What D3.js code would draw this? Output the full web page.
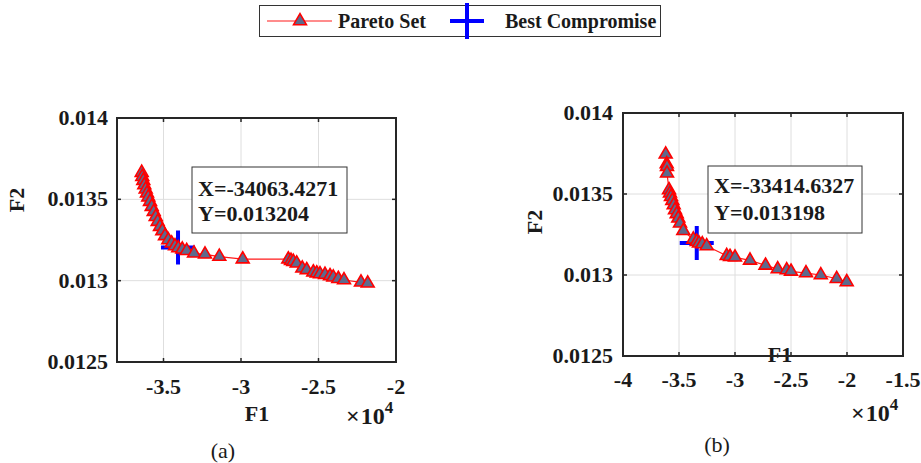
<!DOCTYPE html>
<html>
<head>
<meta charset="utf-8">
<script src="https://cdn.jsdelivr.net/npm/d3@7/dist/d3.min.js"></script>
<style>
  body { margin: 0; background: #fff; }
  svg text { font-family: "Liberation Serif", "Times New Roman", serif; fill: #1a1a1a; }
</style>
</head>
<body>
<svg id="chart" width="921" height="463"></svg>
<script>
// ---- data ----
var paretoA_F1 = [-36406, -36368, -36303, -36239, -36148, -36065, -35981, -35871, -35761, -35632,
  -35503, -35374, -35226, -35077, -34903, -34690, -34471, -34258, -34045, -33787,
  -33503, -33032, -32323, -31400, -29890, -26948, -26774, -26626, -26406, -26045,
  -25761, -25335, -25116, -24903, -24581, -24258, -24045, -23723, -23355, -22258, -21826];
var paretoA_F2 = [0.013664, 0.013639, 0.013615, 0.013588, 0.013562, 0.013537, 0.013513, 0.013486, 0.013455, 0.013424,
  0.013393, 0.013363, 0.013332, 0.013306, 0.013275, 0.013250, 0.013230, 0.013213, 0.013201, 0.013193,
  0.013184, 0.013168, 0.013162, 0.013148, 0.013132, 0.013132, 0.013123, 0.013117, 0.013107, 0.013076,
  0.013066, 0.013052, 0.013046, 0.013041, 0.013037, 0.013029, 0.013021, 0.013012, 0.013004, 0.012990, 0.012984];

var paretoB_F1 = [-36188, -36098, -36071, -36071, -35893, -35804, -35714, -35598, -35473, -35357,
  -35205, -35063, -34911, -34616, -33723, -33420, -33214, -32920, -32527, -30741,
  -30446, -30000, -28661, -27277, -26188, -25384, -25000, -23661, -22339, -20920, -20027];
var paretoB_F2 = [0.013745, 0.013685, 0.013669, 0.013628, 0.013525, 0.013504, 0.013483, 0.013459, 0.013432, 0.013401,
  0.013377, 0.013350, 0.013319, 0.013273, 0.013220, 0.013206, 0.013196, 0.013191, 0.013179, 0.013119,
  0.013113, 0.013109, 0.013090, 0.013059, 0.013037, 0.013031, 0.013022, 0.013012, 0.013000, 0.012977, 0.012957];

var bestA = [-34063.4271, 0.013204];
var bestB = [-33414.6327, 0.013198];

var xTicksA = [-35000, -30000, -25000, -20000];
var xTicksB = [-40000, -35000, -30000, -25000, -20000, -15000];
var yTicks = [0.0125, 0.013, 0.0135, 0.014];
var yTickLabels = ["0.0125", "0.013", "0.0135", "0.014"];
var legendLabels = ["Pareto Set", "Best Compromise"];

// plain hyphen minus like the original figure
var loc = d3.formatLocale({ decimal: ".", thousands: ",", grouping: [3], currency: ["", ""], minus: "-" });

// ---- layout ----
var svg = d3.select("#chart");
var markerFill = "#5e6a8c";
var tri = d3.symbol().type(d3.symbolTriangle).size(72);

var panels = [
  { f1: paretoA_F1, f2: paretoA_F2, best: bestA, xTicks: xTicksA, xDomain: [-38000, -20000],
    left: 117, right: 396, top: 118, bottom: 362, tickY: 394,
    yLabX: 108, f2X: 17, f2Y: 200, f1X: 257, f1Y: 421, expX: 346, expY: 424, tagX: 223, tagY: 458, tag: "(a)",
    box: [192, 167, 155, 66], txtX: 198, txtY: [196, 221] },
  { f1: paretoB_F1, f2: paretoB_F2, best: bestB, xTicks: xTicksB, xDomain: [-40000, -15000],
    left: 623, right: 903, top: 113, bottom: 356, tickY: 387,
    yLabX: 613, f2X: 535, f2Y: 222, f1X: 780, f1Y: 362, expX: 851, expY: 421, tagX: 717, tagY: 452, tag: "(b)",
    box: [708, 166, 154, 67], txtX: 714, txtY: [193, 220] }
];

panels.forEach(function(p) {
  var x = d3.scaleLinear().domain(p.xDomain).range([p.left, p.right]);
  var y = d3.scaleLinear().domain([0.0125, 0.014]).range([p.bottom, p.top]);
  var g = svg.append("g");

  g.append("rect").attr("x", p.left).attr("y", p.top)
    .attr("width", p.right - p.left).attr("height", p.bottom - p.top).attr("fill", "#fff");

  // grid
  g.selectAll(".gx").data(p.xTicks).enter().append("line")
    .attr("x1", function(d) { return x(d); }).attr("x2", function(d) { return x(d); })
    .attr("y1", p.top).attr("y2", p.bottom).attr("stroke", "#dedede").attr("stroke-width", 1);
  g.selectAll(".gy").data(yTicks).enter().append("line")
    .attr("x1", p.left).attr("x2", p.right)
    .attr("y1", function(d) { return y(d); }).attr("y2", function(d) { return y(d); })
    .attr("stroke", "#dedede").attr("stroke-width", 1);

  // inward ticks on all sides
  p.xTicks.forEach(function(d) {
    g.append("line").attr("x1", x(d)).attr("x2", x(d)).attr("y1", p.bottom).attr("y2", p.bottom - 4).attr("stroke", "#262626").attr("stroke-width", 1.5);
    g.append("line").attr("x1", x(d)).attr("x2", x(d)).attr("y1", p.top).attr("y2", p.top + 4).attr("stroke", "#262626").attr("stroke-width", 1.5);
  });
  yTicks.forEach(function(d) {
    g.append("line").attr("x1", p.left).attr("x2", p.left + 4).attr("y1", y(d)).attr("y2", y(d)).attr("stroke", "#262626").attr("stroke-width", 1.5);
    g.append("line").attr("x1", p.right).attr("x2", p.right - 4).attr("y1", y(d)).attr("y2", y(d)).attr("stroke", "#262626").attr("stroke-width", 1.5);
  });

  // tick labels
  g.selectAll(".xl").data(p.xTicks).enter().append("text")
    .attr("x", function(d) { return x(d); }).attr("y", p.tickY)
    .attr("text-anchor", "middle").attr("font-size", 22).attr("font-weight", "bold")
    .text(function(d) { return loc.format("")(d / 10000); });
  g.selectAll(".yl").data(yTicks).enter().append("text")
    .attr("x", p.yLabX).attr("y", function(d) { return y(d) + 7; })
    .attr("text-anchor", "end").attr("font-size", 22).attr("font-weight", "bold")
    .text(function(d, i) { return yTickLabels[i]; });

  // axis labels
  g.append("text").attr("transform", "translate(" + (p.f2X + 7) + "," + p.f2Y + ") rotate(-90)")
    .attr("text-anchor", "middle").attr("font-size", 22).attr("font-weight", "bold").text("F2");
  g.append("text").attr("x", p.f1X).attr("y", p.f1Y).attr("text-anchor", "middle")
    .attr("font-size", 22).attr("font-weight", "bold").text("F1");
  var ex = g.append("text").attr("x", p.expX).attr("y", p.expY).attr("font-size", 24).attr("font-weight", "bold");
  ex.append("tspan").text("\u00d7");
  ex.append("tspan").attr("dx", 1).text("10");
  ex.append("tspan").attr("dy", -11).attr("font-size", 17).text("4");
  g.append("text").attr("x", p.tagX).attr("y", p.tagY).attr("text-anchor", "middle")
    .attr("font-size", 22).text(p.tag);

  // pareto line
  var pts = p.f1.map(function(d, i) { return [d, p.f2[i]]; });
  g.append("path").datum(pts)
    .attr("d", d3.line().x(function(d) { return x(d[0]); }).y(function(d) { return y(d[1]); }))
    .attr("fill", "none").attr("stroke", "#ff1a1a").attr("stroke-width", 1.2);

  // best compromise cross
  var bx = x(p.best[0]), by = y(p.best[1]);
  g.append("path").attr("d", "M" + (bx - 17) + "," + by + "H" + (bx + 17) + "M" + bx + "," + (by - 17) + "V" + (by + 17))
    .attr("stroke", "#0000ff").attr("stroke-width", 4).attr("fill", "none");

  // markers
  g.selectAll(".mk").data(pts).enter().append("path")
    .attr("d", tri)
    .attr("transform", function(d) { return "translate(" + x(d[0]) + "," + y(d[1]) + ")"; })
    .attr("fill", markerFill).attr("stroke", "#ff0000").attr("stroke-width", 1.6);

  // frame
  g.append("rect").attr("x", p.left).attr("y", p.top)
    .attr("width", p.right - p.left).attr("height", p.bottom - p.top)
    .attr("fill", "none").attr("stroke", "#262626").attr("stroke-width", 2);

  // data tip box
  g.append("rect").attr("x", p.box[0]).attr("y", p.box[1]).attr("width", p.box[2]).attr("height", p.box[3])
    .attr("fill", "#fff").attr("stroke", "#333").attr("stroke-width", 1);
  g.append("text").attr("x", p.txtX).attr("y", p.txtY[0]).attr("font-size", 22).attr("font-weight", "bold")
    .text("X=" + loc.format(".4f")(p.best[0]));
  g.append("text").attr("x", p.txtX).attr("y", p.txtY[1]).attr("font-size", 22).attr("font-weight", "bold")
    .text("Y=" + loc.format(".6f")(p.best[1]));
});

// ---- legend ----
var lg = svg.append("g");
lg.append("rect").attr("x", 259.5).attr("y", 5.5).attr("width", 401).attr("height", 31)
  .attr("fill", "#fff").attr("stroke", "#333").attr("stroke-width", 1);
lg.append("line").attr("x1", 267).attr("x2", 332).attr("y1", 21).attr("y2", 21)
  .attr("stroke", "#ff1a1a").attr("stroke-width", 1.2);
lg.append("path").attr("d", tri).attr("transform", "translate(300,21)")
  .attr("fill", markerFill).attr("stroke", "#ff0000").attr("stroke-width", 1.6);
lg.append("text").attr("x", 338).attr("y", 28).attr("font-size", 20).attr("font-weight", "bold").text(legendLabels[0]);
lg.append("path").attr("d", "M450,21H484M467,3V39").attr("stroke", "#0000ff").attr("stroke-width", 4).attr("fill", "none");
lg.append("text").attr("x", 505).attr("y", 28).attr("font-size", 20).attr("font-weight", "bold").text(legendLabels[1]);
</script>
</body>
</html>
